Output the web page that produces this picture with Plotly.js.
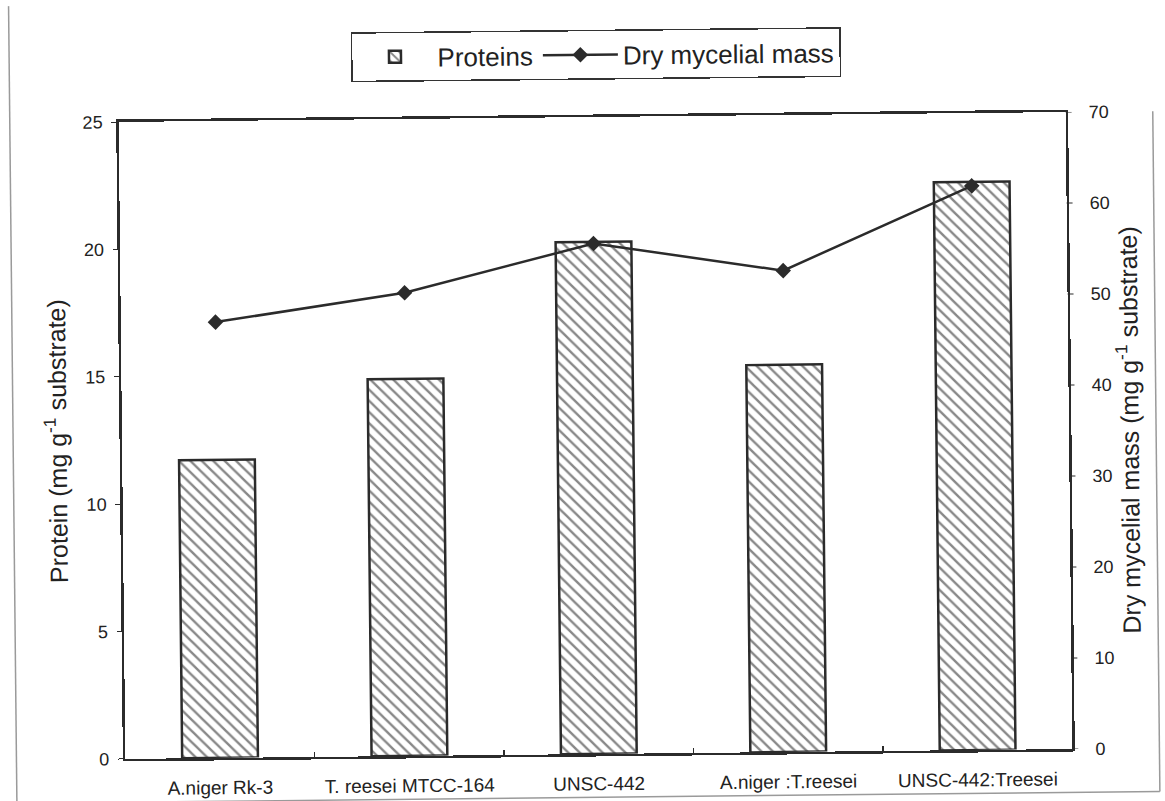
<!DOCTYPE html>
<html>
<head>
<meta charset="utf-8">
<script src="https://cdn.plot.ly/plotly-3.0.1.min.js"></script>
<style>
  html, body { margin: 0; padding: 0; background: #ffffff; }
  #chart { width: 1165px; height: 801px; transform-origin: 595.5px 435.75px; transform: rotate(-0.6deg); }
</style>
</head>
<body>
<div id="chart"></div>
<script>
// Fungal strains / co-cultures on the substrate
const strains = ["A.niger Rk-3", "T. reesei MTCC-164", "UNSC-442", "A.niger :T.reesei", "UNSC-442:Treesei"];
// Protein yield, mg per g substrate (left axis)
const protein = [11.7, 14.8, 20.1, 15.2, 22.3];
// Dry mycelial mass, mg per g substrate (right axis)
const dryMass = [47.9, 50.9, 56.1, 52.9, 62.0];

const leftTicks = [0, 5, 10, 15, 20, 25];
const rightTicks = [0, 10, 20, 30, 40, 50, 60, 70];

const ink = "#2b2b2b";
const font = "Liberation Sans, Arial, sans-serif";

const traces = [
  {
    type: "bar",
    name: "Proteins",
    x: strains,
    y: protein,
    width: 0.4,
    marker: {
      color: "#ffffff",
      line: { color: ink, width: 2.5 },
      pattern: { shape: "\\", fgcolor: "#111111", bgcolor: "#ffffff", size: 8, solidity: 0.3, fillmode: "overlay" }
    },
    yaxis: "y",
    hoverinfo: "x+y"
  },
  {
    type: "scatter",
    mode: "lines+markers",
    name: "Dry mycelial mass",
    x: strains,
    y: dryMass,
    line: { color: ink, width: 2.5 },
    marker: { symbol: "diamond", size: 12, color: ink },
    yaxis: "y2",
    hoverinfo: "x+y"
  }
];

// short outward tick marks on the right-hand axis, placed on the y2 scale
const rightTickMarks = rightTicks.map(v => ({
  type: "line", xref: "paper", yref: "y2",
  x0: 1, x1: 1 + 6 / 948, y0: v, y1: v,
  line: { color: ink, width: 1 }
}));

const layout = {
  width: 1165,
  height: 801,
  paper_bgcolor: "#ffffff",
  plot_bgcolor: "rgba(0,0,0,0)",
  margin: { l: 121.5, r: 95.5, t: 117, b: 47 },
  font: { family: font, color: "#222222", size: 18 },
  showlegend: true,
  legend: {
    orientation: "h",
    x: 0.246, xanchor: "left",
    y: 1.137, yanchor: "top",
    bordercolor: "#333333",
    borderwidth: 1.5,
    bgcolor: "rgba(255,255,255,0)",
    font: { size: 26, family: font, color: "#222222" },
    itemwidth: 75,
    traceorder: "normal"
  },
  xaxis: {
    type: "category",
    showline: true, linecolor: ink, linewidth: 2.5, mirror: true,
    ticks: "inside", ticklen: 5, tickcolor: ink, tickwidth: 1.5,
    tickson: "boundaries",
    showgrid: false, zeroline: false,
    tickfont: { size: 19, family: font, color: "#222222" },
    ticklabelstandoff: 11
  },
  yaxis: {
    range: [0, 25],
    tickvals: leftTicks,
    showline: true, linecolor: ink, linewidth: 2.5,
    ticks: "outside", ticklen: 5, tickcolor: ink, tickwidth: 1,
    ticklabelstandoff: 5,
    showgrid: false, zeroline: false,
    tickfont: { size: 18, family: font, color: "#222222" },
    title: { text: "Protein (mg g<sup>-1</sup> substrate)", font: { size: 25, family: font, color: "#222222" }, standoff: 12 }
  },
  yaxis2: {
    range: [0, 70],
    tickvals: rightTicks,
    overlaying: "y",
    side: "right",
    showline: true, linecolor: ink, linewidth: 2.5,
    ticks: "outside", ticklen: 17, tickcolor: "rgba(0,0,0,0)", tickwidth: 1,
    showgrid: false, zeroline: false,
    tickfont: { size: 18, family: font, color: "#222222" },
    title: { text: "Dry mycelial mass (mg g<sup>-1</sup> substrate)", font: { size: 25, family: font, color: "#222222" }, standoff: 0 }
  },
  shapes: [
    // light chart-area border on the left, right and bottom
    { type: "line", xref: "paper", yref: "paper", x0: -0.115, x1: -0.115, y0: -0.068, y1: 1.19, line: { color: "#9a9a9a", width: 1.5 } },
    { type: "line", xref: "paper", yref: "paper", x0: 1.092, x1: 1.092, y0: -0.068, y1: 1.0, line: { color: "#9a9a9a", width: 1.5 } },
    { type: "line", xref: "paper", yref: "paper", x0: -0.115, x1: 1.092, y0: -0.068, y1: -0.068, line: { color: "#9a9a9a", width: 1.5 } }
  ].concat(rightTickMarks)
};

Plotly.newPlot("chart", traces, layout, { displayModeBar: false, staticPlot: true });
</script>
</body>
</html>
